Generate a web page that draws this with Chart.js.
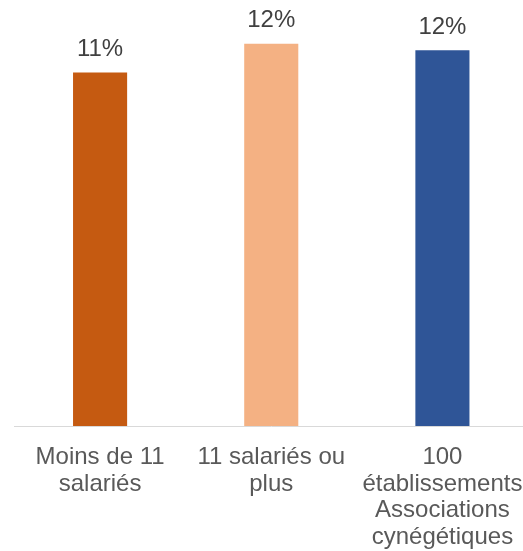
<!DOCTYPE html>
<html>
<head>
<meta charset="UTF-8">
<title>Chart</title>
<script src="https://cdn.jsdelivr.net/npm/chart.js@4.4.1/dist/chart.umd.min.js"></script>
<style>
	html, body { margin: 0; padding: 0; background: #fff; overflow: hidden; }
	#myChart { display: block; }
</style>
</head>
<body>
	<canvas id="myChart" width="528" height="551"></canvas>
<script>
	let categories = [
		["Moins de 11", "salariés"],
		["11 salariés ou", "plus"],
		["100", "établissements", "Associations", "cynégétiques"]
	];
	let values = [11.1, 12.0, 11.8];
	let barColors = ["#C55A11", "#F4B183", "#2F5597"];

	const font = '"Liberation Sans", Arial, sans-serif';

	const valueLabels = {
		id: 'valueLabels',
		afterDatasetsDraw(chart) {
			const ctx = chart.ctx;
			const meta = chart.getDatasetMeta(0);
			ctx.save();
			ctx.font = '24px ' + font;
			ctx.fillStyle = '#404040';
			ctx.textAlign = 'center';
			ctx.textBaseline = 'alphabetic';
			meta.data.forEach(function(bar, i){
				ctx.fillText(Math.round(values[i]) + '%', bar.x, bar.y - 16.5);
			});
			ctx.restore();
		}
	};

	new Chart("myChart", {
		type: "bar",
		data: {
			labels: categories,
			datasets: [{
				backgroundColor: barColors,
				data: values,
				categoryPercentage: 1,
				barPercentage: 0.316
			}]
		},
		options: {
			responsive: false,
			animation: false,
			layout: { padding: { top: 12, left: 14.5, right: 0, bottom: 0 } },
			plugins: {
				legend: { display: false },
				tooltip: { enabled: false }
			},
			scales: {
				y: {
					display: false,
					min: 0,
					max: 13
				},
				x: {
					grid: { display: false, drawTicks: false },
					border: { display: true, color: '#D9D9D9', width: 1 },
					ticks: {
						color: '#595959',
						font: { family: font, size: 24, lineHeight: 1.11 },
						padding: 18,
						autoSkip: false,
						maxRotation: 0,
						minRotation: 0
					},
					afterFit: function(scale){
						scale.height = 125;
						scale.paddingLeft = 0;
						scale.paddingRight = 0;
					}
				}
			}
		},
		plugins: [valueLabels]
	});
</script>
</body>
</html>
